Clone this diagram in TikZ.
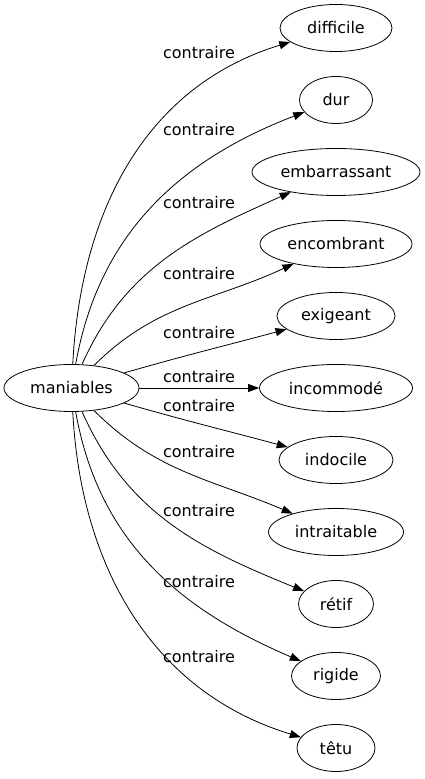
\documentclass[tikz,border=0pt]{standalone}
\usepackage{fontspec}
\setmainfont{DejaVu Sans}
\usetikzlibrary{arrows.meta,shapes.geometric}

\begin{document}
\begin{tikzpicture}[x=1pt,y=1pt,
  word/.style={draw,ellipse,line width=0.8pt,inner sep=0pt,minimum height=47pt,
    font=\fontsize{16}{19}\selectfont},
  rel/.style={-{Triangle[length=11pt,width=8pt]},line width=0.8pt},
  lab/.style={font=\fontsize{16}{19}\selectfont}
]
  \useasboundingbox (0,0) rectangle (424,779);

  % Source word
  \node[word,minimum width=135pt] (man) at (71.5,391) {maniables};

  % Opposites
  \node[word,minimum width=112pt] (diff) at (336,751) {difficile};
  \node[word,minimum width=73pt]  (dur)  at (336,679) {dur};
  \node[word,minimum width=168pt] (emba) at (336,607) {embarrassant};
  \node[word,minimum width=152pt] (enco) at (336,535) {encombrant};
  \node[word,minimum width=118pt] (exig) at (336,463) {exigeant};
  \node[word,minimum width=153pt] (inco) at (336,391) {incommodé};
  \node[word,minimum width=114pt] (indo) at (336,319) {indocile};
  \node[word,minimum width=135pt] (intr) at (336,247) {intraitable};
  \node[word,minimum width=75pt]  (reti) at (336,175) {rétif};
  \node[word,minimum width=89pt]  (rigi) at (336,103) {rigide};
  \node[word,minimum width=78pt]  (tetu) at (336,31)  {têtu};

  % Edges
  \draw[rel] (man) to[out=87,in=197] (diff);
  \draw[rel] (man) to[out=80,in=201] (dur);
  \draw[rel] (man) to[out=66,in=204] (emba);
  \draw[rel] (man) to[out=45,in=205] (enco);
  \draw[rel] (man) to[out=16,in=195] (exig);
  \draw[rel] (man) -- (inco);
  \draw[rel] (man) to[out=-16,in=165] (indo);
  \draw[rel] (man) to[out=-45,in=157] (intr);
  \draw[rel] (man) to[out=-66,in=158] (reti);
  \draw[rel] (man) to[out=-80,in=157] (rigi);
  \draw[rel] (man) to[out=-87,in=163] (tetu);

  % Edge labels
  \node[lab] (l1)  at (199,726) {contraire};
  \node[lab] (l2)  at (199,649) {contraire};
  \node[lab] (l3)  at (199,576) {contraire};
  \node[lab] (l4)  at (199,505) {contraire};
  \node[lab] (l5)  at (199,446) {contraire};
  \node[lab] (l6)  at (199,402) {contraire};
  \node[lab] (l7)  at (199,373) {contraire};
  \node[lab] (l8)  at (199,327) {contraire};
  \node[lab] (l9)  at (199,268) {contraire};
  \node[lab] (l10) at (199,197) {contraire};
  \node[lab] (l11) at (199,122) {contraire};
\end{tikzpicture}
\end{document}
